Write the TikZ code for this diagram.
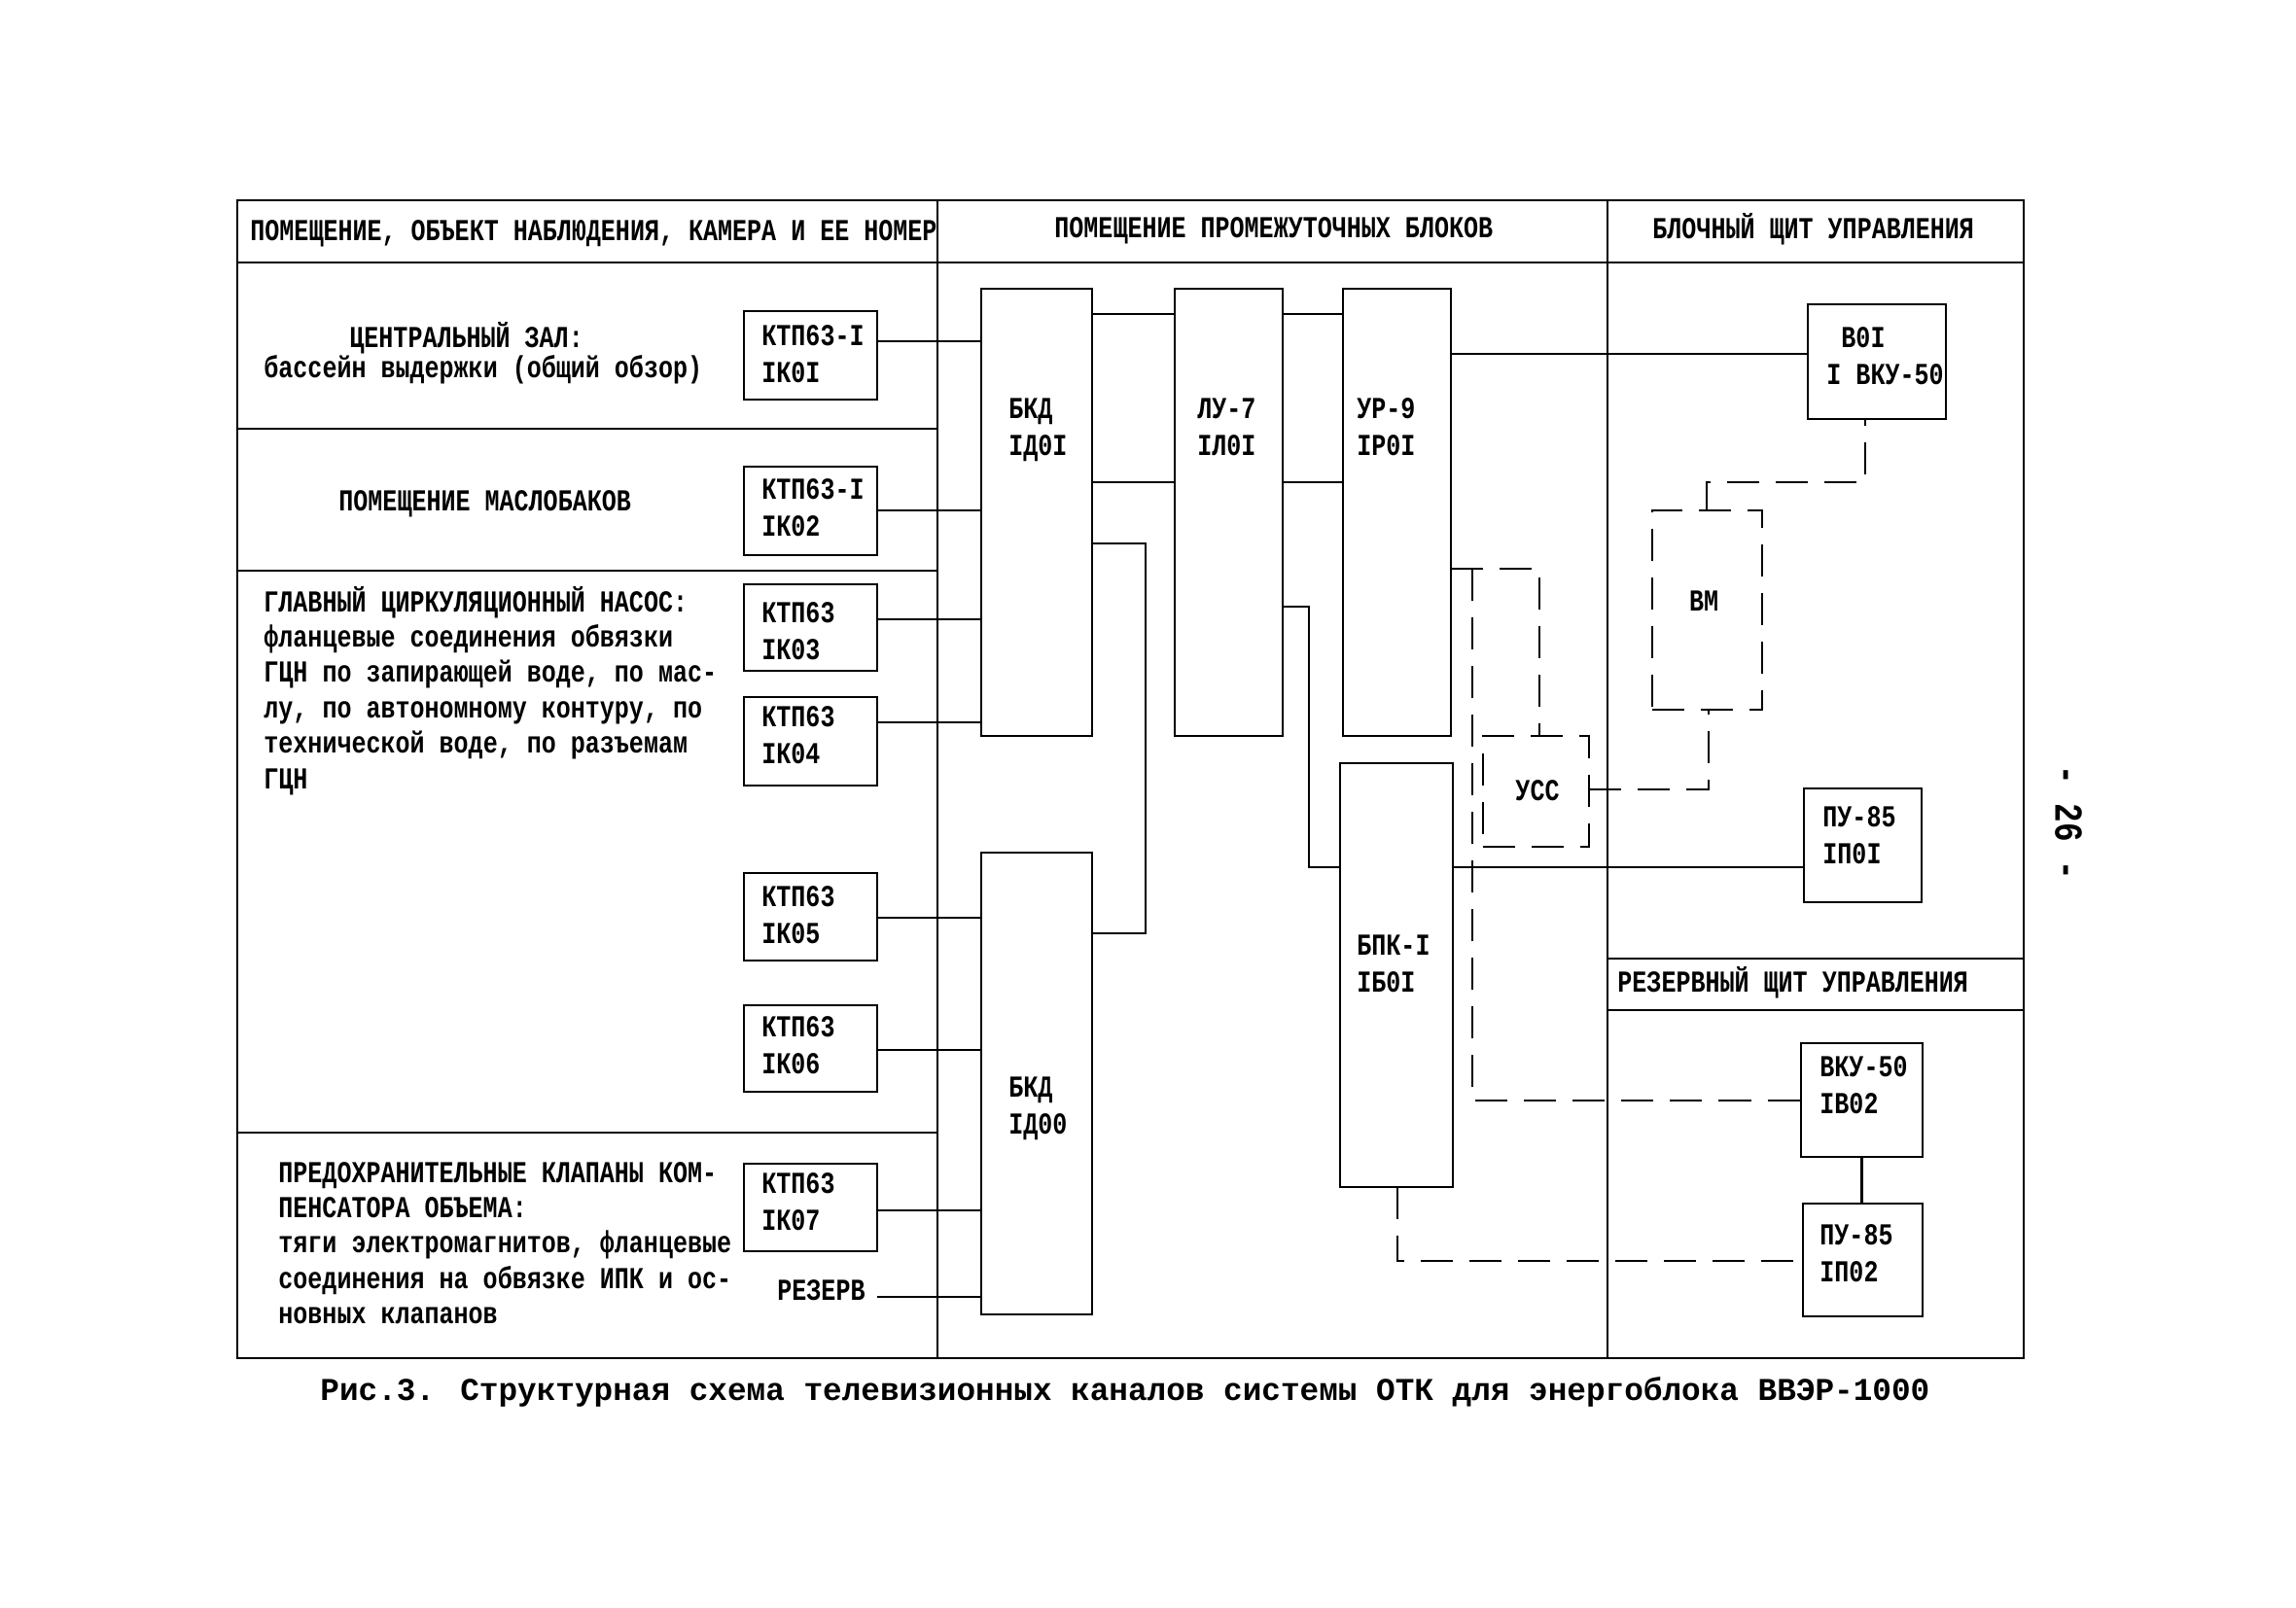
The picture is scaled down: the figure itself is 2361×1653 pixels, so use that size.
\documentclass[tikz,border=0pt]{standalone}
\usepackage{fontspec}
\newfontfamily\twf[FakeStretch=0.8]{Liberation Mono}
\newfontfamily\capf{Liberation Mono}
\usetikzlibrary{fit}
\newcommand{\lns}[1]{\begin{tabular}[t]{@{}l@{}}#1\end{tabular}}
\begin{document}
\begin{tikzpicture}[x=0.01cm,y=-0.01cm,line width=0.8pt,
  blk/.style={draw,inner sep=0pt,outer sep=0pt},
  dblk/.style={blk,dash pattern=on 0.33cm off 0.17cm},
  dsh/.style={dash pattern=on 0.33cm off 0.17cm},
  lbl/.style={inner sep=0pt,anchor=base west,font=\twf\bfseries\fontsize{8.9}{10.8}\selectfont},
  desc/.style={lbl,font=\twf\bfseries\fontsize{8.9}{10.35}\selectfont},
  clbl/.style={lbl,anchor=base}]
\fill[white] (0,0) rectangle (2361,1653);
\path[use as bounding box] (0,0) rectangle (2361,1653);
% frame and grid
\draw (244,206) rectangle (2081,1397);
\draw (244,270) -- (2081,270);
\draw (964,206) -- (964,1397);
\draw (1653,206) -- (1653,1397);
\draw (244,441) -- (964,441);
\draw (244,587) -- (964,587);
\draw (244,1165) -- (964,1165);
\draw (1653,986) -- (2081,986);
\draw (1653,1039) -- (2081,1039);
% headers
\node[lbl] (h1) at (256,247) {ПОМЕЩЕНИЕ, ОБЪЕКТ НАБЛЮДЕНИЯ, КАМЕРА И ЕЕ НОМЕР};
\node[lbl] (h2) at (1083,244) {ПОМЕЩЕНИЕ ПРОМЕЖУТОЧНЫХ БЛОКОВ};
\node[lbl] (h3) at (1698,245) {БЛОЧНЫЙ ЩИТ УПРАВЛЕНИЯ};
\node[lbl] (h4) at (1662,1020) {РЕЗЕРВНЫЙ ЩИТ УПРАВЛЕНИЯ};
% left column texts
\node[lbl] (l1) at (358,357) {ЦЕНТРАЛЬНЫЙ ЗАЛ:};
\node[lbl] (l2) at (270,388) {бассейн выдержки (общий обзор)};
\node[lbl] (l3) at (347,525) {ПОМЕЩЕНИЕ МАСЛОБАКОВ};
\node[desc] (l4) at (270,629) {\lns{ГЛАВНЫЙ ЦИРКУЛЯЦИОННЫЙ НАСОС:\\фланцевые соединения обвязки\\ГЦН по запирающей воде, по мас-\\лу, по автономному контуру, по\\технической воде, по разъемам\\ГЦН}};
\node[desc] (l5) at (285,1216) {\lns{ПРЕДОХРАНИТЕЛЬНЫЕ КЛАПАНЫ КОМ-\\ПЕНСАТОРА ОБЪЕМА:\\тяги электромагнитов, фланцевые\\соединения на обвязке ИПК и ос-\\новных клапанов}};
% camera boxes
\node[blk,fit={(765,320) (902,411)}] (k1) {};
\node[blk,fit={(765,480) (902,571)}] (k2) {};
\node[blk,fit={(765,601) (902,690)}] (k3) {};
\node[blk,fit={(765,717) (902,808)}] (k4) {};
\node[blk,fit={(765,898) (902,988)}] (k5) {};
\node[blk,fit={(765,1034) (902,1123)}] (k6) {};
\node[blk,fit={(765,1197) (902,1287)}] (k7) {};
\node[lbl] (k1t) at (782,355) {\lns{КТП63-I\\IК0I}};
\node[lbl] (k2t) at (782,513) {\lns{КТП63-I\\IК02}};
\node[lbl] (k3t) at (782,640) {\lns{КТП63\\IК03}};
\node[lbl] (k4t) at (782,747) {\lns{КТП63\\IК04}};
\node[lbl] (k5t) at (782,932) {\lns{КТП63\\IК05}};
\node[lbl] (k6t) at (782,1066) {\lns{КТП63\\IК06}};
\node[lbl] (k7t) at (782,1227) {\lns{КТП63\\IК07}};
\node[lbl] (rez) at (798,1337) {РЕЗЕРВ};
% middle blocks
\node[blk,fit={(1009,297) (1123,757)}] (d1) {};
\node[blk,fit={(1208,297) (1319,757)}] (lu) {};
\node[blk,fit={(1381,297) (1492,757)}] (ur) {};
\node[blk,fit={(1009,877) (1123,1352)}] (d0) {};
\node[blk,fit={(1378,785) (1494,1221)}] (bpk) {};
\node[dblk,fit={(1525,757) (1634,871)}] (usc) {};
\node[lbl] (d1t) at (1036,430) {\lns{БКД\\IД0I}};
\node[lbl] (lut) at (1230,430) {\lns{ЛУ-7\\IЛ0I}};
\node[lbl] (urt) at (1394,430) {\lns{УР-9\\IР0I}};
\node[lbl] (d0t) at (1036,1128) {\lns{БКД\\IД00}};
\node[lbl] (bpkt) at (1394,982) {\lns{БПК-I\\IБ0I}};
\node[clbl] (usct) at (1581,823) {УСС};
% right blocks
\node[dblk,fit={(1699,525) (1812,730)}] (vm) {};
\node[blk,fit={(1859,313) (2001,431)}] (v01) {};
\node[blk,fit={(1855,811) (1976,928)}] (p01) {};
\node[blk,fit={(1852,1073) (1977,1190)}] (v02) {};
\node[blk,fit={(1854,1238) (1977,1354)}] (p02) {};
\node[clbl] (vmt) at (1752,628) {ВМ};
\node[lbl] (v01t) at (1877,357) {\lns{\hphantom{I}В0I\\I ВКУ-50}};
\node[lbl] (p01t) at (1873,850) {\lns{ПУ-85\\IП0I}};
\node[lbl] (v02t) at (1870,1107) {\lns{ВКУ-50\\IВ02}};
\node[lbl] (p02t) at (1870,1280) {\lns{ПУ-85\\IП02}};
% connector levels
\coordinate (c1) at (0,351);
\coordinate (c2) at (0,525);
\coordinate (c3) at (0,637);
\coordinate (c4) at (0,743);
\coordinate (c5) at (0,944);
\coordinate (c6) at (0,1080);
\coordinate (c7) at (0,1245);
\coordinate (c8) at (0,1334);
\coordinate (m1) at (0,323);
\coordinate (m2) at (0,496);
\coordinate (br1) at (1178,559);
\coordinate (br2) at (1178,960);
\coordinate (lb1) at (1346,624);
\coordinate (lb2) at (1346,892);
\coordinate (uv) at (0,364);
\coordinate (ud1) at (1514,585);
\coordinate (ud2) at (1583,585);
\coordinate (ud3) at (1514,1132);
\coordinate (uc1) at (1757,812);
\coordinate (vm1) at (1755,496);
\coordinate (vm2) at (1918,496);
\coordinate (bp1) at (1437,1297);
% solid connectors
\draw (k1.east |- c1) -- (d1.west |- c1);
\draw (k2.east |- c2) -- (d1.west |- c2);
\draw (k3.east |- c3) -- (d1.west |- c3);
\draw (k4.east |- c4) -- (d1.west |- c4);
\draw (k5.east |- c5) -- (d0.west |- c5);
\draw (k6.east |- c6) -- (d0.west |- c6);
\draw (k7.east |- c7) -- (d0.west |- c7);
\draw ([xshift=3pt]rez.east |- c8) -- (d0.west |- c8);
\draw (d1.east |- m1) -- (lu.west |- m1);
\draw (d1.east |- m2) -- (lu.west |- m2);
\draw (lu.east |- m1) -- (ur.west |- m1);
\draw (lu.east |- m2) -- (ur.west |- m2);
\draw (d1.east |- br1) -- (br1) -- (br2) -- (d0.east |- br2);
\draw (lu.east |- lb1) -- (lb1) -- (lb2) -- (bpk.west |- lb2);
\draw (ur.east |- uv) -- (v01.west |- uv);
\draw (bpk.east |- lb2) -- (p01.west |- lb2);
\draw (v02.south) -- (v02.south |- p02.north);
% dashed connectors
\draw[dsh] (ur.east |- ud1) -- (ud2) -- (usc.north -| ud2);
\draw[dsh] (ud1) -- (ud3) -- (v02.west |- ud3);
\draw[dsh] (usc.east |- uc1) -- (uc1) -- (vm.south -| uc1);
\draw[dsh] (vm.north -| vm1) -- (vm1) -- (vm2) -- (v01.south -| vm2);
\draw[dsh] (bpk.south -| bp1) -- (bp1) -- (p02.west |- bp1);
% caption and page number
\node[inner sep=0pt,anchor=base west,font=\capf\bfseries\fontsize{9.3}{11}\selectfont] (cap) at (328,1440) {Рис.3. Структурная схема телевизионных каналов системы ОТК для энергоблока ВВЭР-1000};
\node[inner sep=0pt,rotate=-90,font=\twf\bfseries\fontsize{11.6}{12}\selectfont] (pg) at (2127,846) {- 26 -};
\end{tikzpicture}
\end{document}
